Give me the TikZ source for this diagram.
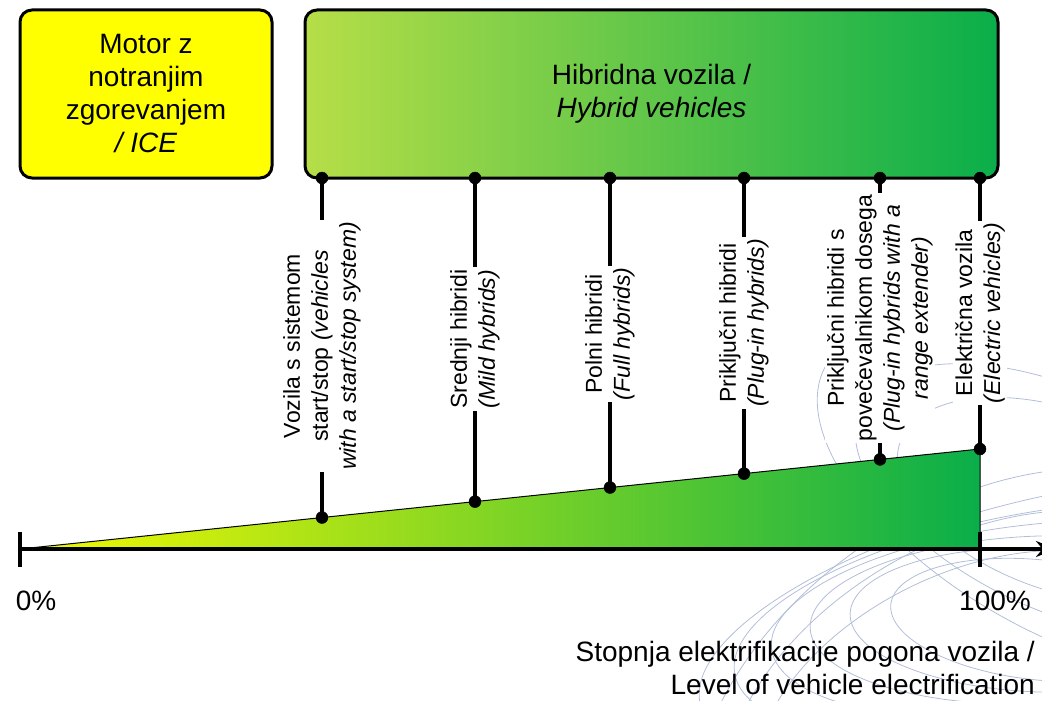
\documentclass[tikz,border=0pt]{standalone}
\usepackage{fontspec}
\setmainfont{Liberation Sans}
\usetikzlibrary{arrows.meta}

\definecolor{iceyellow}{RGB}{255,255,0}
\definecolor{hevlight}{RGB}{182,222,72}
\definecolor{hevdark}{RGB}{10,174,74}
\definecolor{triyellow}{RGB}{245,250,0}
\definecolor{trimid}{RGB}{135,210,38}
\definecolor{watermark}{RGB}{178,190,216}

\tikzset{
  catbox/.style={draw, line width=3pt, rounded corners=12pt, align=center,
    inner sep=0pt, font=\fontsize{28}{33}\selectfont},
  typelabel/.style={rotate=90, fill=white, inner sep=2pt, align=center,
    font=\fontsize{23}{28}\selectfont},
  stem/.style={line width=4.5pt},
  axislabel/.style={inner sep=0pt, font=\fontsize{28}{33}\selectfont}
}

\begin{document}
\begin{tikzpicture}[x=1pt, y=-1pt]
\useasboundingbox (0,0) rectangle (1042,701);

% faint background arcs
\begin{scope}
\clip (640,360) rectangle (1042,701);
\draw[watermark, line width=0.8pt] (1040,620) ellipse [x radius=150, y radius=60, rotate=-6];
\draw[watermark, line width=0.8pt] (1040,620) ellipse [x radius=190, y radius=72, rotate=-2];
\draw[watermark, line width=0.8pt] (1040,620) ellipse [x radius=230, y radius=84, rotate=2];
\draw[watermark, line width=0.8pt] (1040,620) ellipse [x radius=270, y radius=96, rotate=6];
\draw[watermark, line width=0.8pt] (1040,620) ellipse [x radius=310, y radius=108, rotate=10];
\draw[watermark, line width=0.8pt] (1040,620) ellipse [x radius=350, y radius=120, rotate=14];
\draw[watermark, line width=0.8pt] (1060,500) ellipse [x radius=170, y radius=90, rotate=-20];
\draw[watermark, line width=0.8pt] (1060,500) ellipse [x radius=220, y radius=110, rotate=-25];
\draw[watermark, line width=0.8pt] (1060,500) ellipse [x radius=270, y radius=130, rotate=-30];
\draw[watermark, line width=0.8pt] (980,720) ellipse [x radius=240, y radius=150, rotate=25];
\draw[watermark, line width=0.8pt] (980,720) ellipse [x radius=280, y radius=180, rotate=30];
\draw[watermark, line width=0.8pt] (980,720) ellipse [x radius=320, y radius=210, rotate=35];
\end{scope}

% triangle
\coordinate (o) at (20,549);
\coordinate (e) at (980,549);
\coordinate (etop) at (980,449);
\shade[left color=triyellow, middle color=trimid, right color=hevdark] (o) -- (e) -- (etop) -- cycle;
\draw[line width=1pt] (o) -- (etop) -- (e);

% category boxes
\node[catbox, fill=iceyellow, minimum width=252pt, minimum height=168pt] (ice) at (146,94)
  {Motor z\\notranjim\\zgorevanjem\\\textit{/ ICE}};
\node[catbox, left color=hevlight, right color=hevdark, minimum width=693pt, minimum height=168pt] (hev) at (651.5,94)
  {Hibridna vozila /\\\textit{Hybrid vehicles}};

% stems
\coordinate (t1) at (322,178);
\coordinate (t2) at (475,178);
\coordinate (t3) at (610,178);
\coordinate (t4) at (744,178);
\coordinate (t5) at (880,178);
\coordinate (t6) at (980,178);
\coordinate (b1) at (322,517.5);
\coordinate (b2) at (475,501.6);
\coordinate (b3) at (610,487.5);
\coordinate (b4) at (744,473.6);
\coordinate (b5) at (880,459.4);
\coordinate (b6) at (980,449);

\draw[stem] (t1) -- (b1);
\draw[stem] (t2) -- (b2);
\draw[stem] (t3) -- (b3);
\draw[stem] (t4) -- (b4);
\draw[stem] (t5) -- (b5);
\draw[stem] (t6) -- (b6);

\node[typelabel] (l1) at (322,346) {Vozila s sistemom\\start/stop \textit{(vehicles}\\\textit{with a start/stop system)}};
\node[typelabel] (l2) at (475,339) {Srednji hibridi\\\textit{(Mild hybrids)}};
\node[typelabel] (l3) at (610,334) {Polni hibridi\\\textit{(Full hybrids)}};
\node[typelabel] (l4) at (744,323) {Priključni hibridi\\\textit{(Plug-in hybrids)}};
\node[typelabel] (l5) at (880,318) {Priključni hibridi s\\povečevalnikom dosega\\\textit{(Plug-in hybrids with a}\\\textit{range extender)}};
\node[typelabel] (l6) at (980,313) {Električna vozila\\\textit{(Electric vehicles)}};

\draw[fill] (t1) circle [radius=6pt];
\draw[fill] (t2) circle [radius=6pt];
\draw[fill] (t3) circle [radius=6pt];
\draw[fill] (t4) circle [radius=6pt];
\draw[fill] (t5) circle [radius=6pt];
\draw[fill] (t6) circle [radius=6pt];
\draw[fill] (b1) circle [radius=6pt];
\draw[fill] (b2) circle [radius=6pt];
\draw[fill] (b3) circle [radius=6pt];
\draw[fill] (b4) circle [radius=6pt];
\draw[fill] (b5) circle [radius=6pt];
\draw[fill] (b6) circle [radius=6pt];

% axis
\coordinate (axend) at (1056,549);
\draw[line width=3.5pt, -{Stealth[length=20pt, width=16pt]}] (o) -- (axend);
\draw[line width=3.5pt] (20,532) -- (20,567);
\draw[line width=3.5pt] (980,532) -- (980,567);

\node[axislabel] (zero) at (36,601) {0\%};
\node[axislabel] (full) at (995,601) {100\%};
\node[axislabel, anchor=east, align=right] (axtitle) at (1035,668)
  {Stopnja elektrifikacije pogona vozila /\\Level of vehicle electrification};
\end{tikzpicture}
\end{document}
